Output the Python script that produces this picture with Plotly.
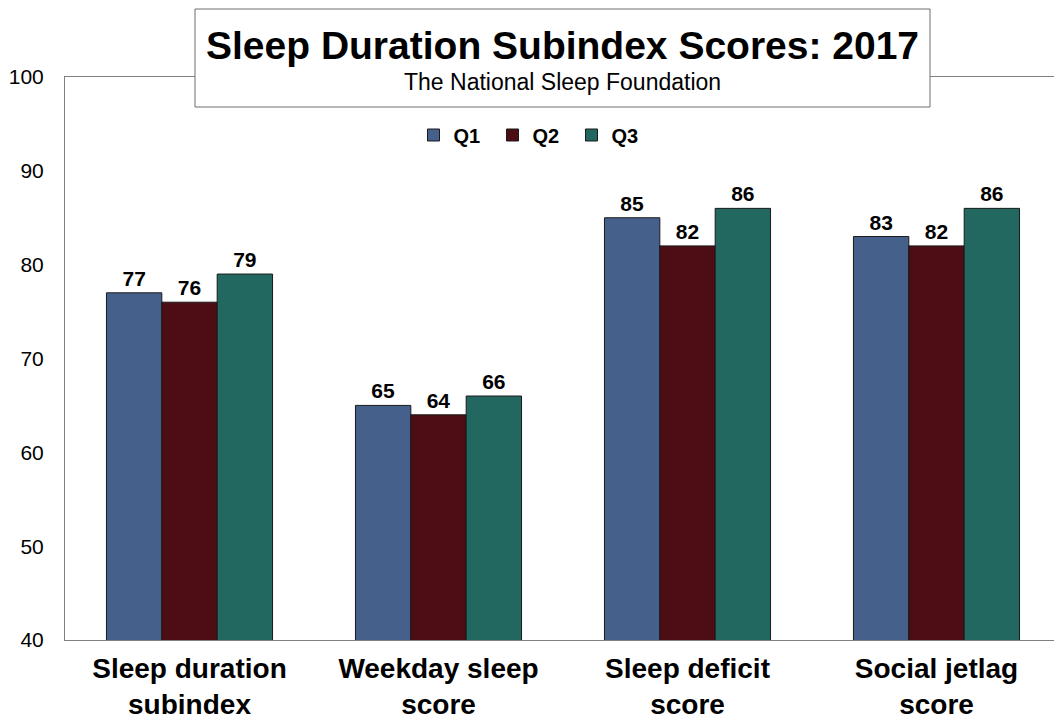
import plotly.graph_objects as go

categories = ["Sleep duration<br>subindex", "Weekday sleep<br>score", "Sleep deficit<br>score", "Social jetlag<br>score"]
q1 = [77, 65, 85, 83]
q2 = [76, 64, 82, 82]
q3 = [79, 66, 86, 86]
series_names = ["Q1", "Q2", "Q3"]
colors = ["#46608C", "#4C0D14", "#236860"]

FONT = "Arial, Liberation Sans, sans-serif"

fig = go.Figure()
for name, vals, col in zip(series_names, [q1, q2, q3], colors):
    fig.add_trace(go.Bar(
        name=name, x=categories, y=vals,
        marker=dict(color=col, line=dict(color="#1a1a1a", width=1)),
        text=[f"<b>{v}</b>" for v in vals], textposition="outside",
        textfont=dict(family=FONT, size=21, color="black"),
        cliponaxis=False,
    ))

L, R, T, B = 65, 0, 77, 81
W, H = 1054, 721
pw, ph = W - L - R, H - T - B

def px(x):
    return (x - L) / pw

def py(y):
    return (H - B - y) / ph

fig.update_layout(
    width=W, height=H,
    margin=dict(l=L, r=R, t=T, b=B, pad=0, autoexpand=False),
    paper_bgcolor="white", plot_bgcolor="white",
    barmode="group", bargap=0.333, bargroupgap=0,
    font=dict(family=FONT, color="black"),
    showlegend=True,
    legend=dict(orientation="h", x=px(532), y=py(135), xanchor="center", yanchor="middle",
                font=dict(family=FONT, size=20, color="black", weight="bold"),
                entrywidth=34, entrywidthmode="pixels", itemwidth=30,
                bgcolor="rgba(0,0,0,0)"),
    xaxis=dict(range=[-0.5, 3.5 - 7 / 249], showline=True, linecolor="#808080", linewidth=1,
               mirror=True, showgrid=False, ticks="", zeroline=False, automargin=False,
               tickfont=dict(family=FONT, size=28, color="black", weight="bold"),
               ticklabelstandoff=3),
    yaxis=dict(range=[40, 100], dtick=10, showline=True, linecolor="#808080", linewidth=1,
               mirror=False, showgrid=False, ticks="", zeroline=False, automargin=False,
               tickfont=dict(family=FONT, size=21, color="black"),
               ticklabelstandoff=16),
    shapes=[dict(type="rect", xref="paper", yref="paper",
                 x0=px(195), x1=px(930), y0=py(107), y1=py(9),
                 fillcolor="white", line=dict(color="#6e6e6e", width=1), layer="above")],
    annotations=[
        dict(text="<b>Sleep Duration Subindex Scores: 2017</b>", xref="paper", yref="paper",
             x=px(562), y=py(46), xanchor="center", yanchor="middle", showarrow=False,
             font=dict(family=FONT, size=39, color="black")),
        dict(text="The National Sleep Foundation", xref="paper", yref="paper",
             x=px(562), y=py(82), xanchor="center", yanchor="middle", showarrow=False,
             font=dict(family=FONT, size=23, color="black")),
    ],
)

fig.write_html("out.html", config={"displayModeBar": False},
               post_script="document.body.style.margin='0';document.body.style.overflow='hidden';")
